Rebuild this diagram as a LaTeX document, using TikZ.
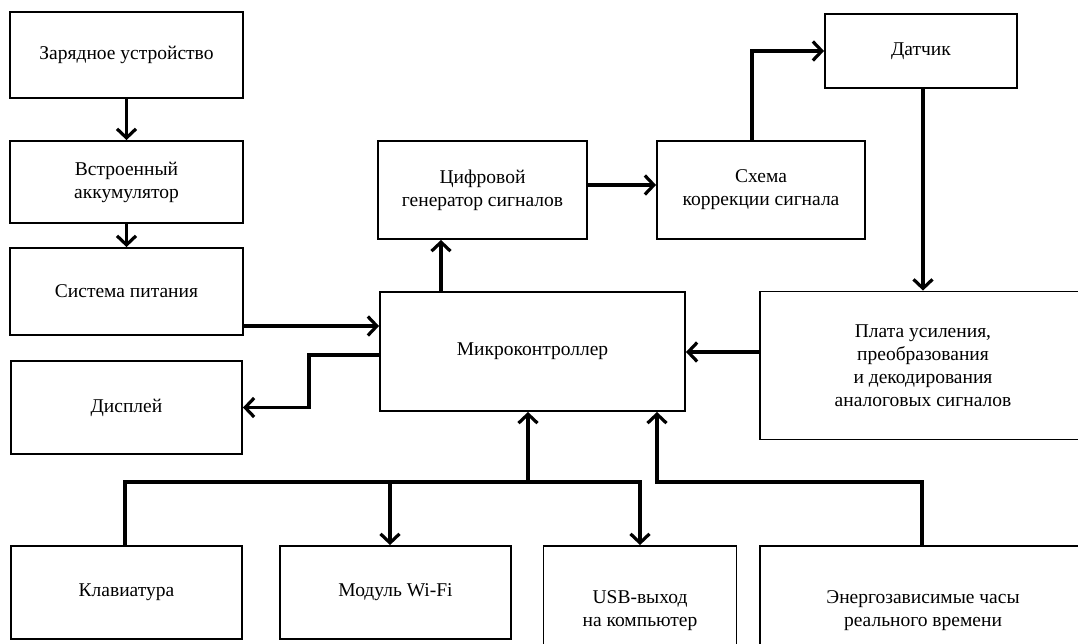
\documentclass[tikz,border=0pt]{standalone}
\usepackage{fontspec}
\setmainfont{Liberation Serif}
\usepackage{tikz}
\usetikzlibrary{arrows.meta,positioning,calc}
\tikzstyle{block}=[draw,line width=1.9pt,rectangle,align=center,inner sep=0pt,font=\fontsize{19.5}{23}\selectfont]
\tikzstyle{link}=[line width=3.2pt,-{Straight Barb[length=9pt,width=19pt]}]

\begin{document}
\begin{tikzpicture}[x=1pt,y=-1pt]
\clip (0,0) rectangle (1078,643);
% left column
\node [block,minimum width=233pt,minimum height=86pt] (charger) at (126.5,55) {Зарядное устройство};
\node [block,minimum width=233pt,minimum height=82pt] (battery) at (126.5,182) {Встроенный\\аккумулятор};
\node [block,minimum width=233pt,minimum height=87pt] (power) at (126.5,291.5) {Система питания};
\node [block,minimum width=231pt,minimum height=93pt] (display) at (126.5,407.5) {Дисплей};
% centre and right
\node [block,minimum width=305pt,minimum height=119pt] (mcu) at (532.5,351.5) {Микроконтроллер};
\node [block,minimum width=209pt,minimum height=98pt] (gen) at (482.5,190) {Цифровой\\генератор сигналов};
\node [block,minimum width=208pt,minimum height=98pt] (corr) at (761,190) {Схема\\коррекции сигнала};
\node [block,minimum width=192pt,minimum height=74pt] (sensor) at (921,51) {Датчик};
\node [block,minimum width=326pt,minimum height=148pt] (board) at (923,365.5) {Плата усиления,\\преобразования\\и декодирования\\аналоговых сигналов};
% bottom row
\node [block,minimum width=231pt,minimum height=93pt] (keys) at (126.5,592.5) {Клавиатура};
\node [block,minimum width=231pt,minimum height=93pt] (wifi) at (395.5,592.5) {Модуль Wi-Fi};
\node [block,minimum width=193pt,minimum height=130pt] (usb) at (640,611) {USB-выход\\на компьютер};
\node [block,minimum width=326pt,minimum height=130pt] (clock) at (923,611) {Энергозависимые часы\\реального времени};

% power chain
\draw [link] (charger) -- (battery);
\draw [link] (battery) -- (power);
\draw [link] (power.east |- 0,326) -- (mcu.west |- 0,326);
\draw [link] (mcu.west |- 0,355) -- (309,355) |- (display.east);
% signal loop
\draw [link] (mcu.north -| 441,0) -- (gen.south -| 441,0);
\draw [link] (gen.east |- 0,185) -- (corr.west |- 0,185);
\draw [link] (corr.north -| 752,0) |- (sensor.west);
\draw [link] (sensor.south -| 923,0) -- (board.north -| 923,0);
\draw [link] (board.west |- 0,352) -- (mcu.east |- 0,352);
% bus
\coordinate (busR) at (usb.north |- 0,482);
\draw [link] (keys.north -| 125,0) |- (busR) -- (usb.north);
\draw [link] (390,482) -- (wifi.north -| 390,0);
\draw [link] (528,482) -- (mcu.south -| 528,0);
\draw [link] (clock.north -| 922,0) |- (657,482) -- (mcu.south -| 657,0);
\end{tikzpicture}
\end{document}
